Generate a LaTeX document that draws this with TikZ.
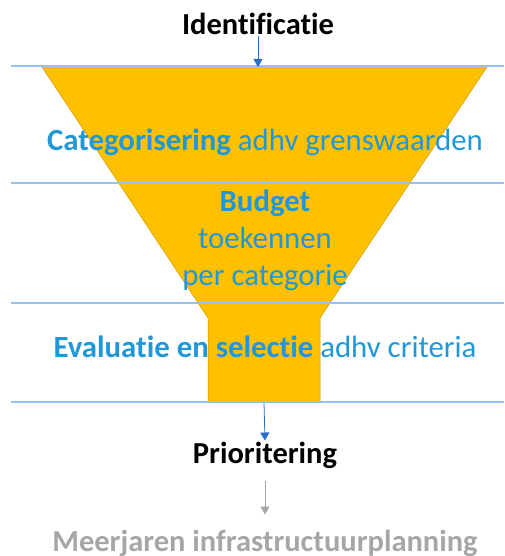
\documentclass[tikz,border=0pt]{standalone}
\usepackage{fontspec}
\setmainfont{Carlito}[Ligatures=NoCommon]
\usetikzlibrary{arrows.meta,positioning}

\definecolor{funnelorange}{RGB}{255,192,0}
\definecolor{stageblue}{RGB}{32,152,216}
\definecolor{lineblue}{RGB}{150,195,235}
\definecolor{arrowblue}{RGB}{40,110,200}
\definecolor{plangray}{RGB}{166,166,166}

\begin{document}
\begin{tikzpicture}[x=1pt,y=-1pt,
    stage/.style={text=stageblue, font=\fontsize{30.8}{37}\selectfont, align=center},
    mainstep/.style={font=\bfseries\fontsize{30.5}{36}\selectfont, inner sep=1pt},
    flow/.style={arrowblue, line width=0.8pt, -{Triangle[length=8pt,width=9pt]}},
    sepline/.style={lineblue, line width=1.2pt}]
    \useasboundingbox (0,0) rectangle (504,556);

    % Funnel
    \draw[funnelorange!80!black, fill=funnelorange, line width=0.5pt]
        (42,67) -- (487,67) -- (320,318) -- (320,402) -- (208,402) -- (208,318) -- cycle;

    % Separator lines
    \foreach \y in {66, 183, 303, 402} {
        \draw[sepline] (11,\y) -- (504,\y);
    }

    % Stages inside the funnel
    \node[stage] (cat) at (265,142) {\textbf{Categorisering} adhv grenswaarden};
    \node[stage] (budget) at (265,240) {\textbf{Budget}\\toekennen\\per categorie};
    \node[stage] (eval) at (265,347) {\textbf{Evaluatie en selectie} adhv criteria};

    % In and out
    \node[mainstep] (ident) at (258,24) {Identificatie};
    \coordinate (top) at (258,67);
    \draw[flow] (ident.south) -- (top);

    \coordinate (neck) at (264,403);
    \node[mainstep] (prio) at (265,455) {Prioritering};
    \draw[flow] (neck) -- (prio.north);

    \node[mainstep, text=plangray] (plan) at (265,543) {Meerjaren infrastructuurplanning};
    \draw[flow, plangray, shorten <=12pt, shorten >=14pt] (prio.south) -- (plan.north);
\end{tikzpicture}
\end{document}
